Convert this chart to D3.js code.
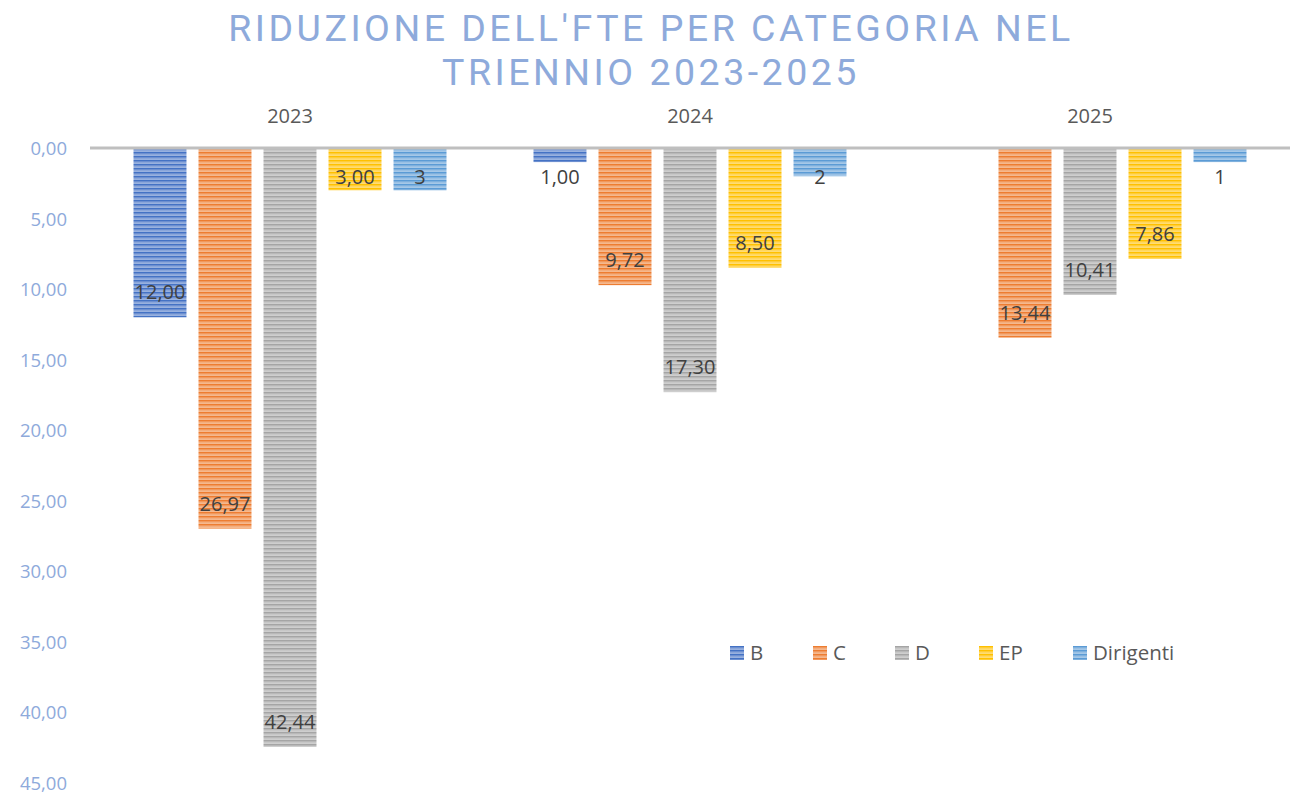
<!DOCTYPE html>
<html>
<head>
<meta charset="utf-8">
<script src="https://cdn.jsdelivr.net/npm/d3@7"></script>
<style>
  html, body { margin: 0; padding: 0; background: #ffffff; }
  svg { display: block; }
</style>
</head>
<body>
<svg id="chart" width="1290" height="798"></svg>
<script>
// FTE reduction per staff category, 2023-2025
const years = ["2023", "2024", "2025"];
const categories = ["B", "C", "D", "EP", "Dirigenti"];
const valuesB = [12.00, 1.00, null];
const valuesC = [26.97, 9.72, 13.44];
const valuesD = [42.44, 17.30, 10.41];
const valuesEP = [3.00, 8.50, 7.86];
const valuesDirigenti = [3, 2, 1];
const yTicks = [0, 5, 10, 15, 20, 25, 30, 35, 40, 45];
const titleLines = ["RIDUZIONE DELL'FTE PER CATEGORIA NEL", "TRIENNIO 2023-2025"];

const series = [
  { name: "B", values: valuesB, color: "#4472c4", decimals: 2 },
  { name: "C", values: valuesC, color: "#ed7d31", decimals: 2 },
  { name: "D", values: valuesD, color: "#a5a5a5", decimals: 2 },
  { name: "EP", values: valuesEP, color: "#ffc000", decimals: 2 },
  { name: "Dirigenti", values: valuesDirigenti, color: "#5b9bd5", decimals: 0 }
];

const svg = d3.select("#chart");
const font = "'Open Sans', 'Noto Sans', sans-serif";

// striped fills
const defs = svg.append("defs");
series.forEach((s, i) => {
  const light = d3.interpolateRgb(s.color, "#ffffff")(0.45);
  const mid = d3.interpolateRgb(s.color, "#ffffff")(0.2);
  const p = defs.append("pattern")
    .attr("id", "stripe" + i)
    .attr("patternUnits", "userSpaceOnUse")
    .attr("width", 8).attr("height", 4);
  p.append("rect").attr("width", 8).attr("height", 4).attr("fill", light);
  p.append("rect").attr("y", 0).attr("width", 8).attr("height", 1.5).attr("fill", s.color);
  p.append("rect").attr("y", 1.5).attr("width", 8).attr("height", 0.8).attr("fill", mid);
});

const plot = { left: 90, right: 1290, top: 148 };
const x0 = d3.scaleBand().domain(years).range([plot.left, plot.right]).paddingInner(0).paddingOuter(0);
const groupWidth = 313;
const x1 = d3.scaleBand().domain(categories)
  .range([0, groupWidth]).paddingInner(0.185).paddingOuter(0);
const y = d3.scaleLinear().domain([0, 45]).range([148, 783]);

// title
svg.append("g").selectAll("text").data(titleLines).join("text")
  .attr("x", 651).attr("y", (d, i) => 41 + i * 44)
  .attr("text-anchor", "middle")
  .attr("font-family", "Roboto, sans-serif")
  .attr("font-size", 37.5)
  .attr("letter-spacing", 3.5)
  .attr("fill", "#8eaadb")
  .text(d => d);

// y axis tick labels
const yAxis = d3.axisLeft(y).tickValues(yTicks)
  .tickFormat(d => d3.format(".2f")(d).replace(".", ","))
  .tickSize(0).tickPadding(0);
const gy = svg.append("g").attr("transform", "translate(67,0)").call(yAxis);
gy.select(".domain").remove();
gy.selectAll("text")
  .attr("font-family", font).attr("font-size", 18.5)
  .attr("fill", "#8eaadb").attr("dy", "0.35em");

// year labels along the top
svg.append("g").selectAll("text").data(years).join("text")
  .attr("x", d => x0(d) + x0.bandwidth() / 2)
  .attr("y", 116)
  .attr("dy", "0.35em")
  .attr("text-anchor", "middle")
  .attr("font-family", font).attr("font-size", 20)
  .attr("fill", "#595959")
  .text(d => d);

// bars
const groups = svg.append("g").selectAll("g").data(years).join("g")
  .attr("transform", d => `translate(${x0(d) + (x0.bandwidth() - groupWidth) / 2},0)`);

const cells = (yr, yi) => series.map((s, si) => ({ s, si, v: s.values[yi] })).filter(d => d.v != null);

groups.selectAll("rect").data((yr, yi) => cells(yr, yi)).join("rect")
  .attr("x", d => x1(d.s.name))
  .attr("y", y(0))
  .attr("width", x1.bandwidth())
  .attr("height", d => y(d.v) - y(0))
  .attr("fill", d => `url(#stripe${d.si})`);

// value labels
groups.selectAll("text.val").data((yr, yi) => cells(yr, yi)).join("text")
  .attr("class", "val")
  .attr("x", d => x1(d.s.name) + x1.bandwidth() / 2)
  .attr("y", d => Math.max(y(d.v) - 25, y(0) + 29))
  .attr("dy", "0.35em")
  .attr("text-anchor", "middle")
  .attr("font-family", font).attr("font-size", 20)
  .attr("fill", "#404040")
  .text(d => d3.format("." + d.s.decimals + "f")(d.v).replace(".", ","));

// zero baseline
svg.append("line")
  .attr("x1", plot.left).attr("x2", plot.right)
  .attr("y1", y(0)).attr("y2", y(0))
  .attr("stroke", "#bfbfbf").attr("stroke-width", 3);

// legend
const legendX = [730, 813, 895, 979, 1073];
const legend = svg.append("g").selectAll("g").data(series).join("g")
  .attr("transform", (d, i) => `translate(${legendX[i]},646)`);
legend.append("rect").attr("width", 14).attr("height", 14)
  .attr("fill", (d, i) => `url(#stripe${i})`);
legend.append("text").attr("x", 20).attr("y", 7).attr("dy", "0.35em")
  .attr("font-family", font).attr("font-size", 20.5)
  .attr("fill", "#595959")
  .text(d => d.name);
</script>
</body>
</html>
